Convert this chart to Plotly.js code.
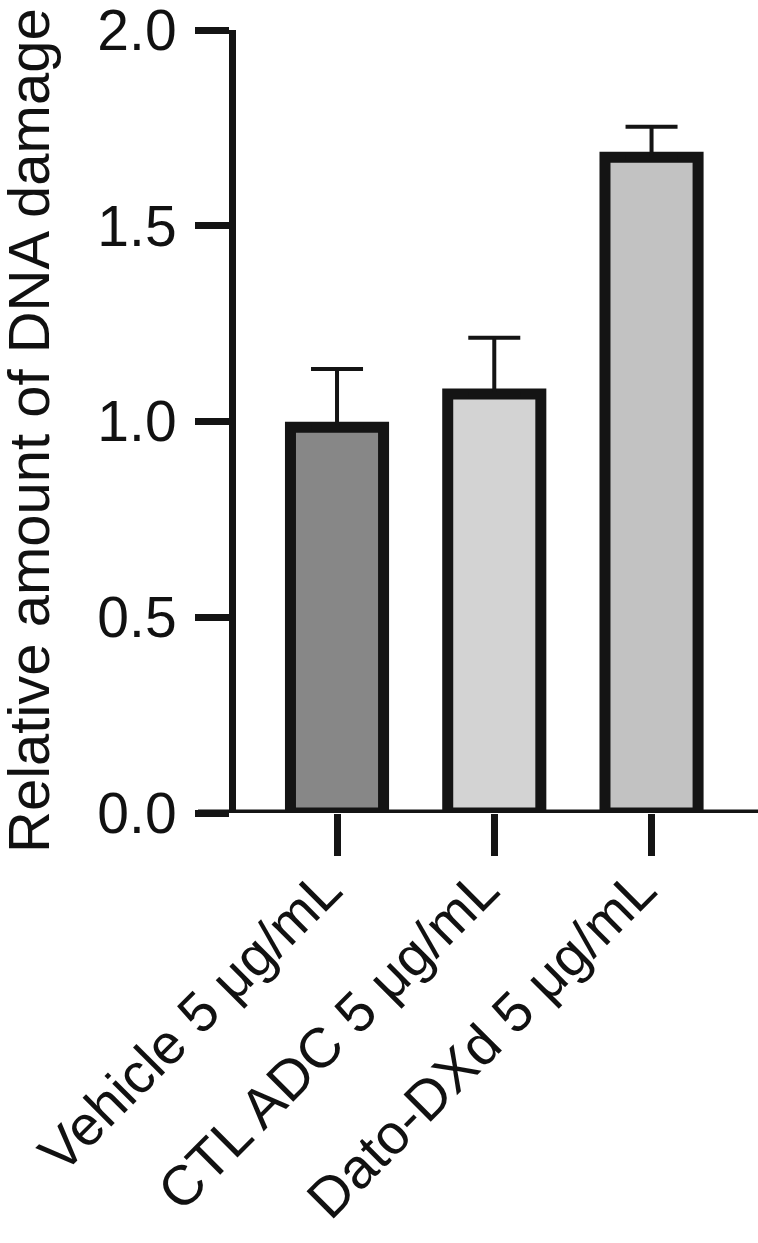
<!DOCTYPE html>
<html>
<head>
<meta charset="utf-8">
<script src="https://cdn.plot.ly/plotly-3.0.1.min.js"></script>
<style>
  html, body { margin: 0; padding: 0; background: #fff; }
  #chart { width: 758px; height: 1243px; }
</style>
</head>
<body>
<div id="chart"></div>
<script>
// Data
const categories = ["Vehicle 5 μg/mL", "CTL ADC 5 μg/mL", "Dato-DXd 5 μg/mL"];
const meanValues = [0.985, 1.070, 1.675];
const errorUp = [0.149, 0.144, 0.078];
const barColors = ["#878787", "#d3d3d3", "#c2c2c2"];
const yTickValues = [0, 0.5, 1.0, 1.5, 2.0];
const yTickLabels = ["0.0", "0.5", "1.0", "1.5", "2.0"];
const yTitle = "Relative amount of DNA damage";

const ink = "#141414";
const fontFamily = "Liberation Sans, Arial, Helvetica, sans-serif";

const trace = {
  type: "bar",
  x: categories,
  y: meanValues,
  marker: {
    color: barColors,
    line: { color: ink, width: 11 }
  },
  error_y: {
    type: "data",
    symmetric: false,
    array: errorUp,
    arrayminus: meanValues.map(() => 0),
    color: ink,
    thickness: 4,
    width: 26
  },
  hoverinfo: "none",
  showlegend: false
};

const layout = {
  width: 758,
  height: 1243,
  margin: { l: 198, r: 0, t: 30, b: 430, pad: 0 },
  paper_bgcolor: "#ffffff",
  plot_bgcolor: "#ffffff",
  font: { family: fontFamily, color: "#111111" },
  bargap: 0.408,
  xaxis: {
    type: "category",
    range: [-0.884, 2.677],
    showline: false,
    showgrid: false,
    zeroline: false,
    ticks: "outside",
    ticklen: 42,
    tickwidth: 7,
    tickcolor: ink,
    tickangle: -45,
    ticklabelstandoff: -22,
    ticklabelshift: -12,
    ticklabeloverflow: "allow",
    tickfont: { size: 56, family: fontFamily, color: "#111111" },
    automargin: false,
    fixedrange: true
  },
  yaxis: {
    anchor: "free",
    position: 34 / 560,
    range: [0, 2],
    tickvals: yTickValues,
    ticktext: yTickLabels,
    showline: true,
    linewidth: 7,
    linecolor: ink,
    showgrid: false,
    zeroline: false,
    ticks: "outside",
    ticklen: 34,
    tickwidth: 7,
    tickcolor: ink,
    ticklabelstandoff: 7,
    ticklabeloverflow: "allow",
    tickfont: { size: 57, family: fontFamily, color: "#111111" },
    automargin: false,
    fixedrange: true
  },
  annotations: [
    {
      text: yTitle,
      textangle: -90,
      xref: "paper", yref: "paper",
      x: (29 - 198) / 560, y: (813 - 431) / 783,
      xanchor: "center", yanchor: "middle",
      showarrow: false,
      font: { size: 58, family: fontFamily, color: "#111111" }
    }
  ],
  shapes: [
    {
      type: "line",
      xref: "paper", yref: "y",
      x0: 0, x1: 1, y0: 0, y1: 0,
      line: { color: ink, width: 7 },
      layer: "above"
    }
  ]
};

Plotly.newPlot("chart", [trace], layout, { staticPlot: true, displayModeBar: false });
</script>
</body>
</html>
